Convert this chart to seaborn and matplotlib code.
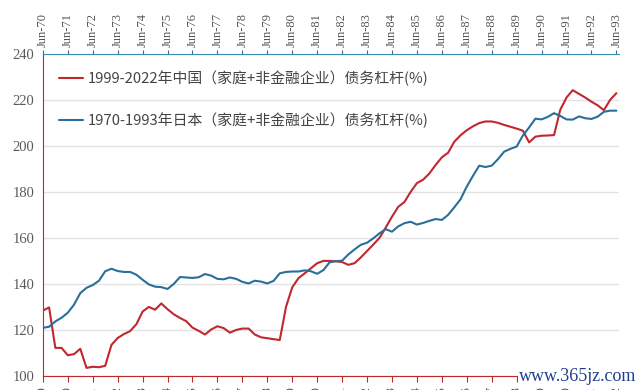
import matplotlib
matplotlib.use("Agg")
import matplotlib.pyplot as plt
import seaborn as sns
import pandas as pd

# quarterly debt leverage (%), household + non-financial corporate
china_vals = [128.4, 129.8, 112.2, 112.2, 109.0, 109.5, 111.8, 103.5, 104.0, 103.8,
              104.4, 113.5, 116.5, 118.2, 119.5, 122.5, 128.0, 130.0, 128.8, 131.5,
              129.0, 126.8, 125.2, 123.8, 121.0, 119.6, 118.0, 120.2, 121.6, 120.8,
              118.8, 120.0, 120.6, 120.6, 118.0, 116.8, 116.4, 116.0, 115.6, 130.0,
              138.5, 142.5, 144.6, 146.8, 149.0, 150.0, 150.0, 149.8, 149.5, 148.3,
              149.0, 151.5, 154.3, 157.1, 160.0, 164.5, 169.2, 173.5, 175.6, 180.0,
              183.8, 185.3, 188.0, 191.7, 195.0, 197.0, 201.8, 204.6, 206.8, 208.5,
              209.9, 210.6, 210.6, 210.0, 209.1, 208.3, 207.5, 206.6, 201.5, 204.0,
              204.4, 204.5, 204.7, 215.7, 221.0, 224.2, 222.6, 221.0, 219.2, 217.6,
              215.5, 220.0, 222.9]
japan_vals = [120.9, 121.4, 123.7, 125.3, 127.5, 131.0, 136.0, 138.3, 139.5, 141.4,
              145.5, 146.6, 145.6, 145.2, 145.2, 144.0, 141.8, 139.8, 138.8, 138.6,
              137.8, 140.0, 143.0, 142.8, 142.6, 142.9, 144.3, 143.6, 142.2, 142.0,
              142.8, 142.2, 140.9, 140.2, 141.4, 141.0, 140.2, 141.3, 144.6, 145.2,
              145.4, 145.4, 145.9, 145.5, 144.4, 146.0, 149.4, 149.9, 150.1, 152.8,
              155.0, 157.0, 157.9, 159.8, 162.0, 163.8, 162.7, 165.0, 166.4, 167.0,
              165.8, 166.5, 167.4, 168.2, 167.8, 170.0, 173.3, 176.8, 182.3, 187.0,
              191.4, 190.8, 191.4, 194.2, 197.5, 198.7, 199.7, 204.5, 208.0, 211.8,
              211.5, 212.6, 214.2, 213.0, 211.5, 211.4, 212.8, 212.0, 211.7, 212.7,
              214.8, 215.3, 215.3]
japan_years = ["70", "71", "72", "73", "74", "75", "76", "77", "78", "79", "80", "81",
               "82", "83", "84", "85", "86", "87", "88", "89", "90", "91", "92", "93"]
china_years = ["99", "00", "01", "02", "03", "04", "05", "06", "07", "08", "09", "10",
               "11", "12", "13", "14", "15", "16", "17", "18", "19", "20", "21", "22"]
label_cn = "1999-2022年中国（家庭+非金融企业）债务杠杆(%)"
label_jp = "1970-1993年日本（家庭+非金融企业）债务杠杆(%)"

RED = "#C0282D"
BLUE = "#2A6F9A"

sns.set_style("white")
plt.rcParams["font.family"] = ["Noto Sans CJK SC", "DejaVu Sans"]

df = pd.DataFrame({"q": range(len(china_vals)), "china": china_vals, "japan": japan_vals})

fig = plt.figure(figsize=(6.4, 3.9), dpi=100)
ax = fig.add_axes([0.067, 0.036, 0.9, 0.826])
sns.lineplot(data=df, x="q", y="china", ax=ax, color=RED, lw=1.5, label=label_cn)
sns.lineplot(data=df, x="q", y="japan", ax=ax, color=BLUE, lw=1.5, label=label_jp)

ax.set_xlim(0, 92.4)
ax.set_ylim(100, 240)
ax.set_yticks(range(100, 241, 20))
ax.yaxis.grid(True, color="#E3E3E3", lw=1)
ax.set_xlabel("")
ax.set_ylabel("")

serif = "Liberation Serif"
ticks = list(range(0, 93, 4))
# bottom labels run off the bottom edge, as in the source image
ax.set_xticks(ticks)
ax.set_xticklabels(["Jun-" + y for y in china_years], rotation=90, family=serif,
                   fontsize=9, color="#555555")
ax.tick_params(axis="x", direction="out", length=4, color=RED, pad=3)
ax.tick_params(axis="y", length=0, pad=6)
for t in ax.get_yticklabels():
    t.set_family(serif)
    t.set_fontsize(10.5)
    t.set_color("#5A5A5A")

for s in ["right", "top"]:
    ax.spines[s].set_visible(False)
ax.spines["left"].set_color(RED)
ax.spines["bottom"].set_color(RED)

top = ax.twiny()
top.set_xlim(ax.get_xlim())
top.set_xticks(ticks)
top.set_xticklabels(["Jun-" + y for y in japan_years], rotation=90, family=serif,
                    fontsize=9, color="#555555")
top.tick_params(axis="x", direction="out", length=3, color=BLUE, pad=2)
for s in ["left", "right", "bottom"]:
    top.spines[s].set_visible(False)
top.spines["top"].set_color("#3A8FB0")

leg = ax.legend(loc="upper left", bbox_to_anchor=(0.005, 0.99), frameon=False,
                fontsize=10.7, handlelength=1.6, handletextpad=0.3, labelspacing=1.8,
                labelcolor="#444444")
for line in leg.get_lines():
    line.set_linewidth(1.5)

fig.text(0.995, 0.012, "www.365jz.com", ha="right", va="bottom", family=serif,
         fontsize=13, color="#1F3F8F",
         bbox=dict(facecolor="white", edgecolor="none", pad=1))

fig.savefig("out.png", dpi=100)
